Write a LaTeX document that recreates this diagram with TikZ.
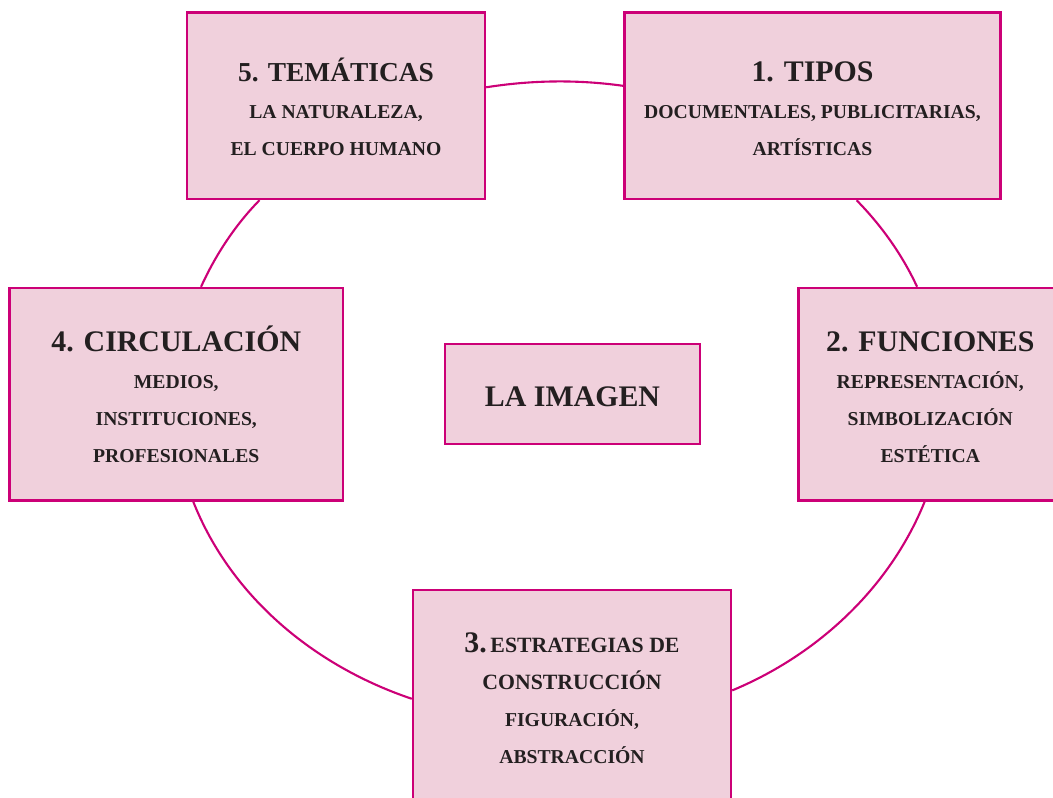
\documentclass[tikz,border=0pt]{standalone}
\usepackage{fontspec}
\setmainfont{Liberation Serif}
\usepackage{xcolor}
\definecolor{rim}{RGB}{204,0,119}
\definecolor{pink}{RGB}{240,208,220}
\definecolor{ink}{RGB}{35,31,32}
\tikzset{
  box/.style={draw=rim,fill=pink,line width=1.4pt,text=ink,align=center,inner sep=0pt,
    font=\bfseries\fontsize{11.2}{21.06}\selectfont},
  ring/.style={draw=rim,line width=1.2pt}
}
% heading line and smaller lines
\newcommand{\hd}[2][17]{\rule{0pt}{14pt}\smash{\fontsize{#1}{21.06}\selectfont #2}}
\newcommand{\sub}[1]{\smash{#1}}

\begin{document}
\begin{tikzpicture}[x=0.02cm,y=0.02cm]
\useasboundingbox (0,0) rectangle (1053,797);

% Boxes
\node[box,minimum width=5.96cm,minimum height=3.73cm] (tema) at (336,691.25)
  {\hd[15.6]{5. TEMÁTICAS}\\ \sub{LA NATURALEZA,}\\ \sub{EL CUERPO HUMANO}};
\node[box,minimum width=7.52cm,minimum height=3.73cm] (tipo) at (812.5,691.25)
  {\hd{1. TIPOS}\\ \sub{DOCUMENTALES, PUBLICITARIAS,}\\ \sub{ARTÍSTICAS}};
\node[box,minimum width=6.67cm,minimum height=4.25cm] (circ) at (176.25,402.75)
  {\hd{4. CIRCULACIÓN}\\ \sub{MEDIOS,}\\ \sub{INSTITUCIONES,}\\ \sub{PROFESIONALES}};
\node[box,minimum width=5.27cm,minimum height=4.25cm] (func) at (930.25,402.75)
  {\hd{2. FUNCIONES}\\ \sub{REPRESENTACIÓN,}\\ \sub{SIMBOLIZACIÓN}\\ \sub{ESTÉTICA}};
\node[box,minimum width=5.1cm,minimum height=2cm] (img) at (572.5,403)
  {\hd{LA IMAGEN}};
\node[box,minimum width=6.36cm,minimum height=4.24cm] (estr) at (572,101)
  {\rule{0pt}{14pt}\smash{{\fontsize{17}{21.06}\selectfont 3.}\fontsize{12.4}{21.06}\selectfont\,ESTRATEGIAS DE}\\
   \sub{\fontsize{12.4}{21.06}\selectfont CONSTRUCCIÓN}\\ \sub{FIGURACIÓN,}\\ \sub{ABSTRACCIÓN}};

% Ring
\draw[ring] (tema.7.2) to[out=9,in=172,looseness=0.86] (tipo.174);
\draw[ring] (tipo.-65) to[out=-45.5,in=114.75,looseness=0.85] (func.97.1);
\draw[ring] (func.-93.9) to[out=-112,in=22.6,looseness=0.88] (estr.2.9);
\draw[ring] (estr.181.1) to[out=161.4,in=-68.4,looseness=0.89] (circ.-81.5);
\draw[ring] (circ.77.4) to[out=65.6,in=225.5,looseness=0.85] (tema.-129.2);
\end{tikzpicture}
\end{document}
